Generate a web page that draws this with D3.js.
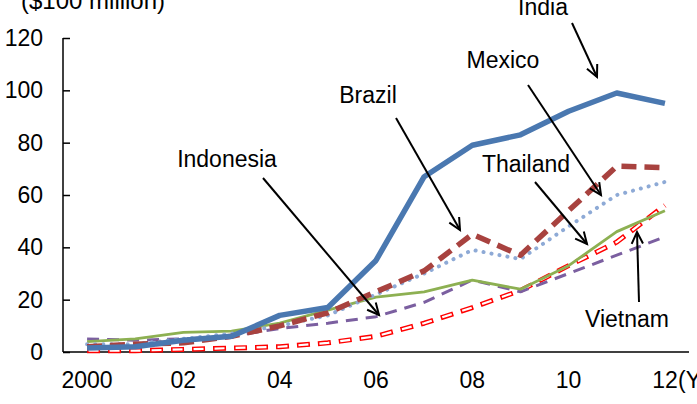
<!doctype html>
<html>
<head>
<meta charset="utf-8">
<script src="https://d3js.org/d3.v7.min.js"></script>
<style>
  body { margin: 0; background: #fff; }
  text { font-family: "Liberation Sans", Arial, sans-serif; fill: #000; }
</style>
</head>
<body>
<script>
// data ($100 million)
var years = [2000, 2001, 2002, 2003, 2004, 2005, 2006, 2007, 2008, 2009, 2010, 2011, 2012];
var india     = [1.5, 2, 4.5, 6, 14, 17, 35, 67, 79, 83, 92, 99, 95];
var brazil    = [2, 3, 3.5, 6, 10, 15, 23, 31, 45, 37, 54, 71, 70.5];
var mexico    = [3, 3, 5, 7, 10, 14, 22, 30, 39, 35.5, 48, 60, 65];
var thailand  = [4, 5, 7.5, 8, 11, 16, 21, 23, 27.5, 24, 33, 46, 54];
var indonesia = [5, 4.5, 5, 6, 9, 11, 13.5, 19, 27.5, 23, 30, 37, 44];
var vietnam   = [0.5, 0.5, 1, 1.5, 2, 3.5, 6, 11, 17, 23.5, 33, 42, 56];
var yTicks = [0, 20, 40, 60, 80, 100, 120];
var xTickLabels = {2000: "2000", 2002: "02", 2004: "04", 2006: "06", 2008: "08", 2010: "10", 2012: "12"};

var width = 697, height = 404;
var svg = d3.select("body").append("svg")
    .attr("width", width)
    .attr("height", height);

var x = d3.scalePoint().domain(years).range([63, 689]).padding(0.5);
var y = d3.scaleLinear().domain([0, 120]).range([352, 38]);

var line = d3.line()
    .x(function(d, i) { return x(years[i]); })
    .y(function(d) { return y(d); });

// y axis, ticks pointing inward
var yAxis = svg.append("g")
    .attr("transform", "translate(63,0)")
    .call(d3.axisRight(y).tickValues(yTicks).tickSize(7).tickFormat(""));
yAxis.select(".domain").remove();
yAxis.selectAll("line").attr("stroke", "#000").attr("stroke-width", 1.5);
svg.append("line").attr("x1", 63).attr("x2", 63).attr("y1", y(120)).attr("y2", y(0))
    .attr("stroke", "#000").attr("stroke-width", 1.5);

svg.selectAll(".ylab").data(yTicks).enter().append("text")
    .attr("x", 43).attr("y", function(d) { return y(d) + 8; })
    .attr("text-anchor", "end").attr("font-size", "23px")
    .text(function(d) { return d; });

// x axis
svg.append("line").attr("x1", 63).attr("x2", 689).attr("y1", y(0)).attr("y2", y(0))
    .attr("stroke", "#000").attr("stroke-width", 1.5);
svg.selectAll(".xlab").data(years.filter(function(d) { return xTickLabels[d]; })).enter().append("text")
    .attr("x", function(d) { return x(d); }).attr("y", 388)
    .attr("text-anchor", "middle").attr("font-size", "23px")
    .text(function(d) { return xTickLabels[d]; });
svg.append("text").attr("x", 678).attr("y", 388).attr("font-size", "23px").text("(Year)");
svg.append("text").attr("x", 21).attr("y", 9).attr("font-size", "24px").text("($100 million)");

// series
function draw(vals, color, w, dash, cap) {
  return svg.append("path").datum(vals)
    .attr("d", line).attr("fill", "none")
    .attr("stroke", color).attr("stroke-width", w)
    .attr("stroke-dasharray", dash || null)
    .attr("stroke-linecap", cap || "butt")
    .attr("stroke-linejoin", "round");
}
draw(vietnam, "#ff0000", 5, "13,8");
draw(vietnam, "#ffffff", 2.2, "10,11", null).attr("stroke-dashoffset", -1.5);
draw(indonesia, "#7b5fa0", 3, "12,8");
draw(thailand, "#8db052", 2.8);
draw(mexico, "#8eaad6", 4, "0.1,8", "round");
draw(brazil, "#a8423f", 5.5, "15,8");
draw(india, "#4a78b0", 5.5);

// annotations
var labels = [
  {name: "India", tx: 543, ty: 15, x1: 572, y1: 23, x2: 597, y2: 77},
  {name: "Mexico", tx: 503, ty: 68, x1: 528, y1: 85, x2: 601, y2: 195},
  {name: "Brazil", tx: 368, ty: 103, x1: 396, y1: 118, x2: 460, y2: 230},
  {name: "Thailand", tx: 526, ty: 172, x1: 535, y1: 182, x2: 587, y2: 244},
  {name: "Indonesia", tx: 227, ty: 167, x1: 263, y1: 178, x2: 379, y2: 315},
  {name: "Vietnam", tx: 627, ty: 327, x1: 639, y1: 302, x2: 637, y2: 232}
];
svg.selectAll(".lbl").data(labels).enter().append("text")
    .attr("x", function(d) { return d.tx; }).attr("y", function(d) { return d.ty; })
    .attr("text-anchor", "middle").attr("font-size", "23px")
    .text(function(d) { return d.name; });

labels.forEach(function(d) {
  svg.append("line").attr("x1", d.x1).attr("y1", d.y1).attr("x2", d.x2).attr("y2", d.y2)
      .attr("stroke", "#000").attr("stroke-width", 2);
  var ang = Math.atan2(d.y2 - d.y1, d.x2 - d.x1), len = 13, spread = 0.45;
  var pts = [
    [d.x2 - len * Math.cos(ang - spread), d.y2 - len * Math.sin(ang - spread)],
    [d.x2, d.y2],
    [d.x2 - len * Math.cos(ang + spread), d.y2 - len * Math.sin(ang + spread)]
  ];
  svg.append("path").attr("d", d3.line()(pts)).attr("fill", "none")
      .attr("stroke", "#000").attr("stroke-width", 2).attr("stroke-linejoin", "miter");
});
</script>
</body>
</html>
